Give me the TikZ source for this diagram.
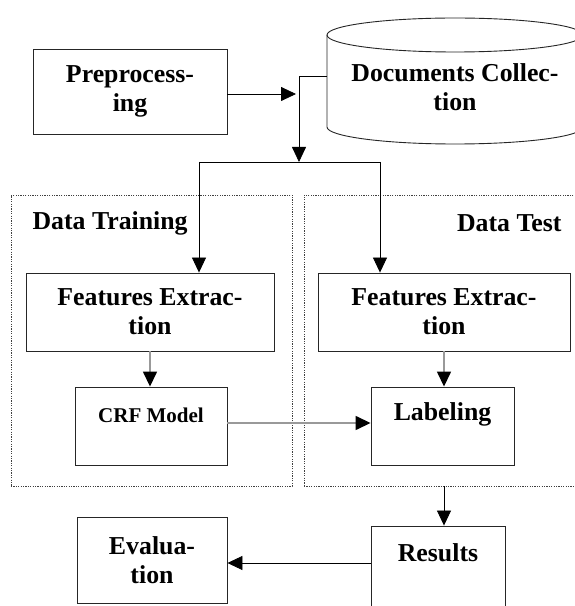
\documentclass[tikz,border=0pt]{standalone}
\usepackage{fontspec}
\setmainfont{Liberation Serif}
\usetikzlibrary{arrows.meta,calc}
\begin{document}
\begin{tikzpicture}[x=1pt,y=1pt,
  every node/.style={font=\bfseries\fontsize{25.8}{29}\selectfont, align=center},
  box/.style={draw=black!85, line width=0.9pt, rectangle, inner sep=0pt},
  dotbox/.style={draw=black!75, line width=0.8pt, dash pattern=on 1.2pt off 1.2pt, rectangle, inner sep=0pt},
  conn/.style={draw=black, line width=0.8pt},
  gconn/.style={draw=black!40, line width=1.5pt},
  arr/.style={-{Triangle[length=15pt,width=14pt,color=black]}}
]
\clip (0,0) rectangle (575,606);
\fill[white] (0,0) rectangle (575,606);

% cylinder
\draw[line width=0.9pt, draw=black!85] (327,571) -- (327,479) arc[start angle=180, end angle=360, x radius=128, y radius=17] -- (583,571);
\draw[line width=0.9pt, draw=black!85] (455,571) ellipse[x radius=128, y radius=17];
\node (docs) at (455,518.5) {Documents Collec-\\tion};
\coordinate (cylw) at (327,530);

% dotted groups
\node[dotbox, minimum width=281pt, minimum height=291pt] (dtrain) at (151.5,265.5) {};
\node[dotbox, minimum width=300pt, minimum height=291pt] (dtest) at (454,265.5) {};
\node[anchor=west] (dtraint) at (29,383) {Data Training};
\node[anchor=east] (dtestt) at (565,383) {Data Test};

% boxes
\node[box, minimum width=194pt, minimum height=85pt] (pre) at (130,514.5) {Preprocess-\\ing};
\node[box, minimum width=248pt, minimum height=78pt] (fel) at (150,294) {Features Extrac-\\tion};
\node[box, minimum width=252pt, minimum height=78pt] (fer) at (444,294) {Features Extrac-\\tion};
\node[box, minimum width=152pt, minimum height=78pt] (crf) at (151,180) {};
\node[font=\bfseries\fontsize{21}{24}\selectfont] (crft) at (151,191) {CRF Model};
\node[box, minimum width=143pt, minimum height=78pt] (lab) at (442.5,180) {};
\node (labt) at (442.5,192) {Labeling};
\node[box, minimum width=134pt, minimum height=130pt] (res) at (438,15) {};
\node (rest) at (438,53) {Results};
\node[box, minimum width=150pt, minimum height=86pt] (eva) at (152,46) {Evalua-\\tion};

% connectors
\coordinate (pin) at (296,512);
\coordinate (jn) at (299,530);
\coordinate (split) at (299,444);
\coordinate (sl) at (199,444);
\coordinate (sr) at (380,444);
\draw[conn, arr] ([yshift=-2.5pt]pre.east) -- (pin);
\draw[conn, arr] (cylw) -- (jn) -- (split);
\draw[conn] (sl) -- (sr);
\draw[conn, arr] (sl) -- (sl |- fel.north);
\draw[conn, arr] (sr) -- (sr |- fer.north);
\draw[gconn, arr] (fel.south) -- (fel.south |- crf.north);
\draw[gconn, arr] (fer.south) -- (fer.south |- lab.north);
\draw[gconn, arr] ([yshift=3pt]crf.east) -- ([yshift=3pt]lab.west);
\draw[conn, arr] (fer.south |- dtest.south) -- (fer.south |- res.north);
\draw[conn, arr] ([yshift=-3pt]res.west |- eva.east) -- ([yshift=-3pt]eva.east);
\end{tikzpicture}
\end{document}
